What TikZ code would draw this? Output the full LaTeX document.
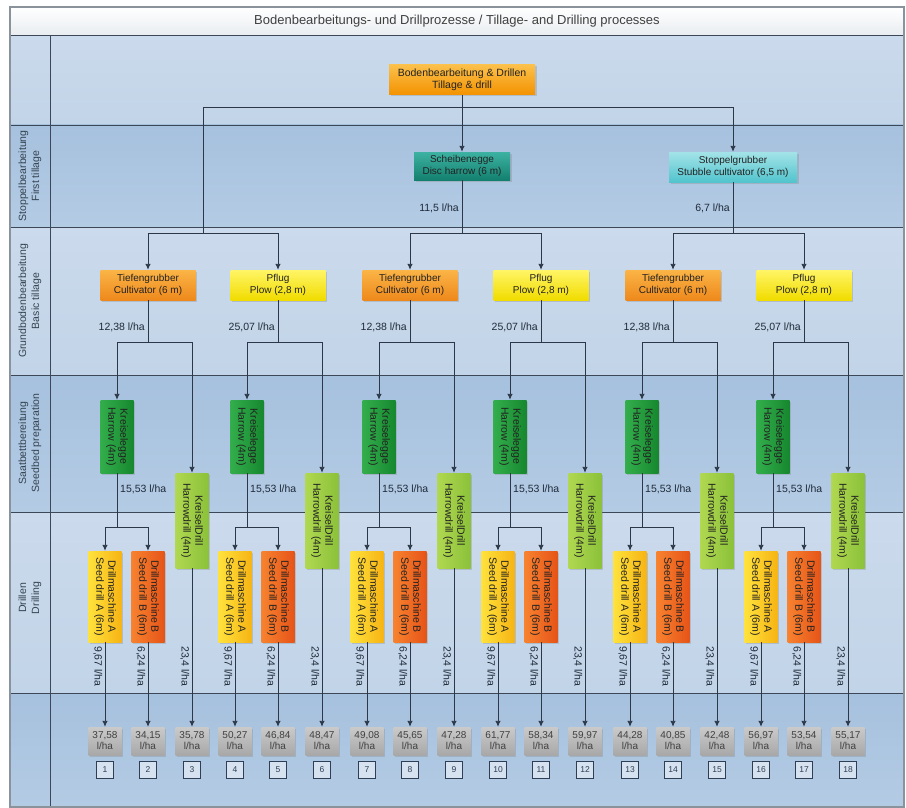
\documentclass[tikz,border=0pt]{standalone}
\usepackage{fontspec}
\setmainfont{Liberation Sans}
\usetikzlibrary{arrows.meta,shadows}

\definecolor{laneDark}{HTML}{A6C1DE}
\definecolor{laneDarkB}{HTML}{B4CBE4}
\definecolor{laneLight}{HTML}{CBDAEC}
\definecolor{laneLightB}{HTML}{C2D4E8}
\definecolor{titlebg}{HTML}{E9EDF1}
\definecolor{laneline}{HTML}{3C4858}
\definecolor{framecol}{HTML}{8A929C}
\definecolor{linecol}{HTML}{2C3848}
\definecolor{boxtext}{HTML}{222222}
\definecolor{ratetext}{HTML}{1E2A38}
\definecolor{labeltext}{HTML}{34434F}
\definecolor{rootA}{HTML}{FBC04A}
\definecolor{rootB}{HTML}{F39200}
\definecolor{discA}{HTML}{3DB2A2}
\definecolor{discB}{HTML}{13806F}
\definecolor{stubA}{HTML}{A3E3E8}
\definecolor{stubB}{HTML}{52C4CD}
\definecolor{cultA}{HTML}{FBB446}
\definecolor{cultB}{HTML}{EE891C}
\definecolor{plowA}{HTML}{FFF566}
\definecolor{plowB}{HTML}{F1DC00}
\definecolor{harrowA}{HTML}{33AE4C}
\definecolor{harrowB}{HTML}{16882F}
\definecolor{hdrillA}{HTML}{B0D850}
\definecolor{hdrillB}{HTML}{8BC13A}
\definecolor{drillAa}{HTML}{FFE23C}
\definecolor{drillAb}{HTML}{F6B414}
\definecolor{drillBa}{HTML}{F7822F}
\definecolor{drillBb}{HTML}{E65418}
\definecolor{resA}{HTML}{CACACA}
\definecolor{resB}{HTML}{A8A8A8}
\definecolor{numline}{HTML}{2E3E54}
\definecolor{numfill}{HTML}{D6E2EF}

\tikzset{
  procbox/.style={inner sep=1pt, align=center, text=boxtext,
    font=\fontsize{10}{12}\selectfont,
    drop shadow={opacity=.3, shadow xshift=1.5pt, shadow yshift=-1.5pt}},
  hbox/.style={procbox, minimum height=30, minimum width=95},
  vbox/.style={procbox, rotate=-90, minimum height=33,
    font=\fontsize{10.5}{12}\selectfont},
  rootbox/.style={top color=rootA, bottom color=rootB, minimum width=146,
    font=\fontsize{10.5}{12.5}\selectfont},
  discbox/.style={top color=discA, bottom color=discB},
  stubbox/.style={top color=stubA, bottom color=stubB},
  cultbox/.style={top color=cultA, bottom color=cultB},
  plowbox/.style={top color=plowA, bottom color=plowB},
  harrowbox/.style={left color=harrowA, right color=harrowB},
  hdrillbox/.style={left color=hdrillA, right color=hdrillB},
  drillAbox/.style={left color=drillAa, right color=drillAb},
  drillBbox/.style={left color=drillBa, right color=drillBb},
  result/.style={procbox, top color=resA, bottom color=resB,
    minimum width=33, minimum height=28, inner sep=.5pt,
    font=\fontsize{10}{11}\selectfont, text=black!75},
  numbox/.style={draw=numline, line width=1pt, fill=numfill, minimum size=17,
    inner sep=0pt, font=\fontsize{8.5}{9}\selectfont, text=numline},
  rate/.style={inner sep=1pt, text=ratetext, font=\fontsize{10.5}{12}\selectfont},
  lanelabel/.style={rotate=90, align=center, text=labeltext,
    font=\fontsize{10.5}{13}\selectfont},
  wire/.style={draw=linecol, line width=.9pt},
  link/.style={wire, -{Latex[length=6pt,width=5.5pt]}},
  laneedge/.style={draw=laneline, line width=.8pt}
}

\begin{document}
\begin{tikzpicture}[x=1pt,y=-1pt]
    \useasboundingbox (0,0) rectangle (906,808);
    %% lanes
    \shade[top color=laneLight, bottom color=laneLightB] (10,35) rectangle (904,125);
    \shade[top color=laneDark, bottom color=laneDarkB] (10,125) rectangle (904,227);
    \shade[top color=laneLight, bottom color=laneLightB] (10,227) rectangle (904,375);
    \shade[top color=laneDark, bottom color=laneDarkB] (10,375) rectangle (904,512);
    \shade[top color=laneLight, bottom color=laneLightB] (10,512) rectangle (904,693);
    \shade[top color=laneDark, bottom color=laneDarkB] (10,693) rectangle (904,807);
    %% title bar
    \shade[top color=white, bottom color=titlebg] (10,7) rectangle (904,35);
    \node[text=black!75, font=\fontsize{13}{15}\selectfont] (title) at (457,21)
        {Bodenbearbeitungs- und Drillprozesse / Tillage- and Drilling processes};
    %% lane borders and frame
    \foreach \y in {35,125,227,375,512,693}
        \draw[laneedge] (10,\y) -- (904,\y);
    \draw[laneedge] (50,35) -- (50,807);
    \draw[framecol, line width=1.5pt] (10,7) rectangle (904,807);
    %% lane labels
    \node[lanelabel] (lane1) at (30,176) {Stoppelbearbeitung\\First tillage};
    \node[lanelabel] (lane2) at (30,301) {Grundbodenbearbeitung\\Basic tillage};
    \node[lanelabel] (lane3) at (30,443) {Saatbettbereitung\\Seedbed preparation};
    \node[lanelabel] (lane4) at (30,598) {Drillen\\Drilling};

    %% tillage & drill, first tillage
    \node[hbox, rootbox] (root) at (462,80) {Bodenbearbeitung \& Drillen\\Tillage \& drill};
    \node[hbox, discbox, minimum width=96, minimum height=28] (disc) at (462,166)
        {Scheibenegge\\Disc harrow (6 m)};
    \node[hbox, stubbox, minimum width=128] (stub) at (733,167)
        {Stoppelgrubber\\Stubble cultivator (6,5 m)};
    \node[rate, anchor=east] (rdisc) at (460,208) {11,5 l/ha};
    \node[rate, anchor=east] (rstub) at (731,208) {6,7 l/ha};

    %% basic tillage
    \foreach \k/\c in {1/148,3/410,5/673}{
        \node[hbox, cultbox] (basic\k) at (\c,285) {Tiefengrubber\\Cultivator (6 m)};
        \node[rate, anchor=east] (rbasic\k) at (\c-2,327) {12,38 l/ha};
    }
    \foreach \k/\c in {2/278,4/541,6/804}{
        \node[hbox, plowbox] (basic\k) at (\c,285) {Pflug\\Plow (2,8 m)};
        \node[rate, anchor=east] (rbasic\k) at (\c-2,327) {25,07 l/ha};
    }

    %% connectors from the top
    \coordinate (drop1) at (203,233);
    \draw[link] (root.south) -- (disc.north);
    \draw[link] (root.south) ++(0,12) -| (stub.north);
    \draw[wire] (root.south) ++(0,12) -| (drop1);
    \draw[wire] (disc.south) -- (disc.south |- 0,233) coordinate (drop2);
    \draw[wire] (stub.south) -- (stub.south |- 0,233) coordinate (drop3);
    \draw[link] (drop1) -| (basic1.north);
    \draw[link] (drop1) -| (basic2.north);
    \draw[link] (drop2) -| (basic3.north);
    \draw[link] (drop2) -| (basic4.north);
    \draw[link] (drop3) -| (basic5.north);
    \draw[link] (drop3) -| (basic6.north);

    %% seedbed preparation and drilling
    \foreach \k/\c in {1/148,2/278,3/410,4/541,5/673,6/804}{
        \node[vbox, harrowbox, minimum width=73] (harrow\k) at (\c-31,436.5)
            {Kreiselegge\\Harrow (4m)};
        \node[vbox, hdrillbox, minimum width=95] (hdrill\k) at (\c+44,520.5)
            {KreiselDrill\\Harrowdrill (4m)};
        \node[vbox, drillAbox, minimum width=91] (drillA\k) at (\c-43,596.5)
            {Drillmaschine A\\Seed drill A (6m)};
        \node[vbox, drillBbox, minimum width=91] (drillB\k) at (\c,596.5)
            {Drillmaschine B\\Seed drill B (6m)};
        \draw[wire] (basic\k.south) -- (basic\k.south |- 0,342) coordinate (split\k);
        \draw[link] (split\k) -| (harrow\k.west);
        \draw[link] (split\k) -| (hdrill\k.west);
        \draw[wire] (harrow\k.east) -- (harrow\k.east |- 0,527) coordinate (fork\k);
        \draw[link] (fork\k) -| (drillA\k.west);
        \draw[link] (fork\k) -| (drillB\k.west);
        \node[rate, anchor=west] (rharrow\k) at (\c-29,489) {15,53 l/ha};
        \node[rate, rotate=-90, anchor=north west] (rdrillA\k) at (\c-44.5,645) {9,67 l/ha};
        \node[rate, rotate=-90, anchor=north west] (rdrillB\k) at (\c-1.5,645) {6,24 l/ha};
        \node[rate, rotate=-90, anchor=north west] (rhdrill\k) at (\c+42.5,645) {23,4 l/ha};
    }

    %% results
    \foreach \n/\v/\src in {1/{37,58}/drillA1, 2/{34,15}/drillB1, 3/{35,78}/hdrill1,
            4/{50,27}/drillA2, 5/{46,84}/drillB2, 6/{48,47}/hdrill2,
            7/{49,08}/drillA3, 8/{45,65}/drillB3, 9/{47,28}/hdrill3,
            10/{61,77}/drillA4, 11/{58,34}/drillB4, 12/{59,97}/hdrill4,
            13/{44,28}/drillA5, 14/{40,85}/drillB5, 15/{42,48}/hdrill5,
            16/{56,97}/drillA6, 17/{53,54}/drillB6, 18/{55,17}/hdrill6}{
        \node[result] (res\n) at (\src.center |- 0,741) {\v\\l/ha};
        \node[numbox] (num\n) at (res\n |- 0,770) {\n};
        \draw[link] (\src.east) -- (res\n.north);
    }
\end{tikzpicture}
\end{document}
